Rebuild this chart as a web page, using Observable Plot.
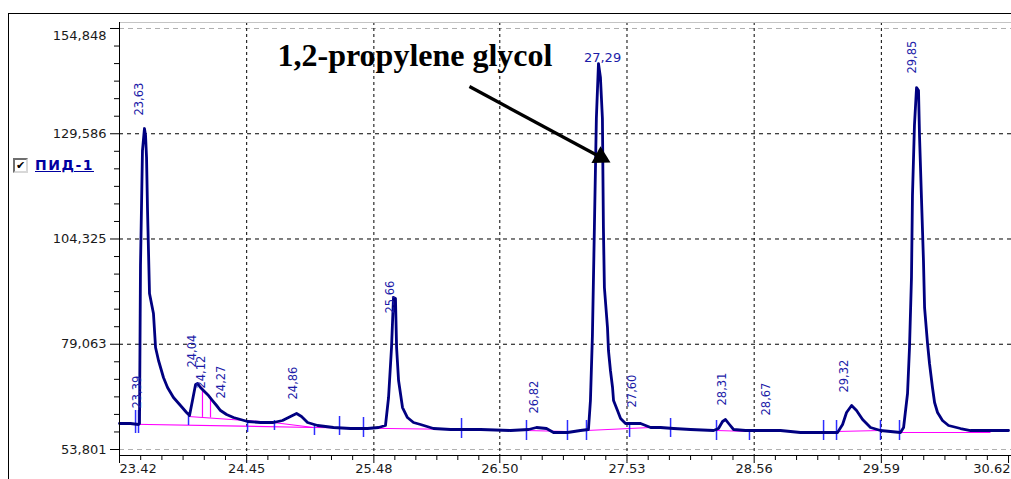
<!DOCTYPE html>
<html><head><meta charset="utf-8">
<script src="https://cdn.jsdelivr.net/npm/d3@7"></script>
<script src="https://cdn.jsdelivr.net/npm/@observablehq/plot@0.6"></script>
<style>
body{margin:0;background:#fff;}
#wrap{position:relative;width:1011px;height:479px;overflow:hidden;background:#fff;}
#chart{position:absolute;left:0;top:0;}
#frame{position:absolute;left:8px;top:13px;width:1100px;height:600px;border-left:1px solid #000;border-top:1px solid #000;pointer-events:none;}
#legend{position:absolute;left:13px;top:157px;display:flex;align-items:center;}
#legend .cb{display:inline-block;box-sizing:border-box;width:15px;height:15px;border:2px solid;border-color:#6e6e6e #d8d8d8 #d8d8d8 #6e6e6e;background:#fff;font:bold 11px/11px "DejaVu Sans",sans-serif;text-align:center;color:#000;}
#legend .lt{margin-left:7px;font:bold 14px "DejaVu Sans",sans-serif;letter-spacing:1.5px;color:#0000a0;text-decoration:underline;}
g[aria-label="peak-label-h"] text{letter-spacing:1px;}
g[aria-label="y-labels"] text{letter-spacing:1.2px;}
</style></head>
<body>
<div id="wrap"><div id="chart"></div><div id="frame"></div>
<div id="legend"><span class="cb">✔</span><span class="lt">ПИД-1</span></div></div>
<script>
// ---- axes ----
const xTickValues = [23.42, 24.45, 25.48, 26.50, 27.53, 28.56, 29.59, 30.62];
const xTickLabels = ["23.42","24.45","25.48","26.50","27.53","28.56","29.59","30.62"];
const yTickValues = [53801, 79063, 104325, 129586, 154848];
const yTickLabels = ["53,801","79,063","104,325","129,586","154,848"];
const xDomain = [23.42, 30.644];
const yDomain = [52361, 156288];

// ---- chromatogram (retention time, signal) ----
const curveTime = [
 23.420, 23.509, 23.574, 23.582, 23.590, 23.606, 23.622, 23.631, 23.639, 23.647,
 23.663, 23.695, 23.712, 23.736, 23.776, 23.809, 23.857, 23.914, 23.963, 23.987,
 24.011, 24.036, 24.052, 24.076, 24.108, 24.141, 24.173, 24.206, 24.238, 24.287,
 24.343, 24.457, 24.562, 24.667, 24.740, 24.805, 24.854, 24.894, 24.943, 25.024,
 25.153, 25.291, 25.429, 25.518, 25.574, 25.599, 25.623, 25.639, 25.655, 25.664,
 25.680, 25.712, 25.752, 25.801, 25.858, 25.963, 26.101, 26.344, 26.587, 26.733,
 26.797, 26.878, 26.935, 27.048, 27.153, 27.218, 27.234, 27.250, 27.266, 27.282,
 27.299, 27.315, 27.331, 27.339, 27.347, 27.372, 27.380, 27.396, 27.413, 27.421,
 27.453, 27.478, 27.518, 27.640, 27.721, 27.802, 27.907, 28.045, 28.231, 28.271,
 28.304, 28.328, 28.360, 28.393, 28.490, 28.611, 28.773, 28.935, 29.122, 29.235,
 29.276, 29.308, 29.349, 29.389, 29.438, 29.502, 29.583, 29.745, 29.770, 29.802,
 29.818, 29.834, 29.842, 29.858, 29.875, 29.891, 29.899, 29.915, 29.931, 29.940,
 29.964, 29.980, 30.004, 30.021, 30.045, 30.085, 30.134, 30.231, 30.312, 30.474,
 30.620];
const curveSignal = [
 60040, 60040, 59800, 60040, 97960, 125560, 130840, 129160, 123880, 111160,
 91240, 86440, 78280, 75160, 71080, 68680, 66280, 64360, 62680, 61960,
 65560, 69400, 69640, 68680, 67720, 66760, 65560, 64360, 63160, 62200,
 61480, 60520, 60280, 60280, 60760, 61720, 62440, 61720, 60280, 59560,
 59080, 58840, 58840, 59080, 59560, 66280, 78280, 90280, 90040, 78280,
 70360, 63880, 61480, 60280, 59800, 58840, 58600, 58600, 58360, 58600,
 59080, 58840, 57880, 57880, 58360, 58600, 65560, 81160, 107080, 133240,
 146440, 143080, 133240, 107080, 92680, 83080, 77560, 72760, 68680, 65560,
 63160, 61240, 60040, 60040, 59080, 59080, 58840, 58600, 58360, 58840,
 60520, 61000, 59800, 58600, 58360, 58360, 58360, 57880, 57880, 57880,
 59800, 62680, 64360, 63160, 61000, 59080, 58360, 57880, 59080, 67240,
 78280, 95080, 114760, 131560, 140680, 139960, 129160, 114040, 99160, 87880,
 79240, 74440, 68680, 65080, 62680, 60760, 59560, 58840, 58360, 58360,
 58360];

// ---- peak boundary markers ----
const boundaryTime = [23.550, 23.574, 23.979, 24.457, 24.675, 24.999, 25.202, 25.396, 26.190, 26.716,
                      27.048, 27.202, 27.551, 27.883, 28.255, 28.522, 29.122, 29.227, 29.583, 29.737];
const boundaryLow  = [57640, 57640, 59560, 57880, 58360, 57160, 57160, 56680, 56440, 55960,
                      55960, 55960, 56680, 56680, 55960, 55960, 55960, 55960, 55960, 55960];
const boundaryHigh = [63160, 63160, 61720, 60280, 60760, 59560, 61720, 61480, 61240, 60760,
                      60760, 60760, 60040, 61240, 60760, 57880, 60760, 60760, 60760, 60760];

// ---- integration baselines ----
const baseStartT = [23.420, 23.979, 24.667, 24.991, 26.716, 27.202, 28.255, 29.227, 29.737];
const baseStartV = [59920, 61720, 60280, 59080, 58360, 58360, 58360, 58120, 57880];
const baseEndT   = [24.991, 24.667, 24.991, 26.190, 27.048, 27.721, 28.522, 29.583, 30.474];
const baseEndV   = [59080, 60280, 59080, 58600, 58120, 59080, 58120, 58360, 57880];
const dropTime   = [24.092, 24.157];
const dropTop    = [67960, 66040];
const dropBottom = [61500, 61360];

// ---- peak labels ----
const peakLabelText   = ["23,39","23,63","24,04","24,12","24,27","24,86","25,66","26,82","27,60","28,31","28,67","29,32","29,85"];
const peakLabelTime   = [23.566, 23.582, 24.011, 24.084, 24.246, 24.829, 25.615, 26.781, 27.575, 28.304, 28.660, 29.292, 29.843];
const peakLabelSignal = [63640, 133960, 73480, 68440, 66040, 65800, 86440, 62440, 63880, 64360, 61960, 67480, 144040];
const topLabelText = ["27,29"];
const topLabelTime = [27.332];
const topLabelSignal = [147690];

// ---- annotation ----
const annotationText = ["1,2-propylene glycol"];
const annotationTime = [25.813];
const annotationSignal = [148360];
const arrowTail = {t: 26.254, v: 140920};
const arrowEnd  = {t: 27.291, v: 124360};
const arrowHead = {t: 27.318, v: 123930};

// ---- build ----
const curve = curveTime.map((t, i) => ({t, v: curveSignal[i]}));
const boundaries = boundaryTime.map((t, i) => ({t, lo: boundaryLow[i], hi: boundaryHigh[i]}));
const baselines = baseStartT.map((t, i) => ({t1: t, v1: baseStartV[i], t2: baseEndT[i], v2: baseEndV[i]}));
const drops = dropTime.map((t, i) => ({t, lo: dropBottom[i], hi: dropTop[i]}));
const peakLabels = peakLabelText.map((s, i) => ({s, t: peakLabelTime[i], v: peakLabelSignal[i]}));
const topLabels = topLabelText.map((s, i) => ({s, t: topLabelTime[i], v: topLabelSignal[i]}));
const annotations = annotationText.map((s, i) => ({s, t: annotationTime[i], v: annotationSignal[i]}));

function minorBetween(vals) {
  const out = [];
  for (let i = 0; i < vals.length - 1; i++) {
    const a = vals[i], b = vals[i + 1];
    for (let k = 1; k < 6; k++) out.push(a + (b - a) * k / 6);
  }
  return out;
}
const xMinor = minorBetween(xTickValues);
const yMinor = minorBetween(yTickValues);
const xInnerGrid = xTickValues.slice(1, -1);
const yInnerGrid = yTickValues.slice(1, -1);
const yEdgeGrid = [yTickValues[0], yTickValues[yTickValues.length - 1]];
const axisFont = "'DejaVu Sans', Verdana, sans-serif";
const xFmt = d => xTickLabels[xTickValues.indexOf(d)];
const yFmt = d => yTickLabels[yTickValues.indexOf(d)];

const chart = Plot.plot({
  width: 1011, height: 479,
  marginLeft: 119, marginRight: 0, marginTop: 22, marginBottom: 24,
  style: {background: "transparent", fontFamily: axisFont, overflow: "visible"},
  x: {domain: xDomain, axis: null},
  y: {domain: yDomain, axis: null},
  marks: [
    Plot.ruleY(yEdgeGrid, {stroke: "#b0b0b0", strokeDasharray: "5,4"}),
    Plot.ruleY(yInnerGrid, {stroke: "#000", strokeDasharray: "4,4"}),
    Plot.ruleX(xInnerGrid, {stroke: "#000", strokeDasharray: "3,3"}),
    Plot.ruleY([yDomain[1]], {stroke: "#c4c4c4"}),
    Plot.link(baselines, {x1: "t1", y1: "v1", x2: "t2", y2: "v2", stroke: "#ff00ff", strokeWidth: 1.2}),
    Plot.ruleX(drops, {x: "t", y1: "lo", y2: "hi", stroke: "#ff00ff", strokeWidth: 1.2}),
    Plot.ruleX(boundaries, {x: "t", y1: "lo", y2: "hi", stroke: "#2d2dff", strokeWidth: 1.5}),
    Plot.line(curve, {x: "t", y: "v", stroke: "#000080", strokeWidth: 2.8}),
    Plot.text(peakLabels, {x: "t", y: "v", text: "s", rotate: -90, textAnchor: "start", fill: "#1c1ca8", fontSize: 11.5}),
    Plot.text(topLabels, {x: "t", y: "v", text: "s", fill: "#1c1ca8", fontSize: 13, ariaLabel: "peak-label-h"}),
    Plot.text(annotations, {x: "t", y: "v", text: "s", fill: "#000", fontSize: 32, fontWeight: "bold", fontFamily: "'Liberation Serif', 'Times New Roman', serif"}),
    Plot.link([{a: arrowTail, b: arrowEnd}], {x1: d => d.a.t, y1: d => d.a.v, x2: d => d.b.t, y2: d => d.b.v, stroke: "#000", strokeWidth: 3.2}),
    Plot.dot([arrowHead], {x: "t", y: "v", symbol: "triangle2", r: 9.1, rotate: 118.3, fill: "#000", stroke: "none"}),
    Plot.ruleX([xDomain[0]], {stroke: "#000"}),
    Plot.ruleY([yDomain[0]], {stroke: "#000"}),
    Plot.axisX(xTickValues, {anchor: "bottom", tickSize: 8, fill: "none", label: null}),
    Plot.axisX(xTickValues.slice(0, 1), {anchor: "bottom", tickSize: 0, tickPadding: 8, fontSize: 13, fill: "#1a1a1a",
      textAnchor: "start", tickFormat: xFmt, label: null}),
    Plot.axisX(xTickValues.slice(1, -1), {anchor: "bottom", tickSize: 0, tickPadding: 8, fontSize: 13, fill: "#1a1a1a",
      tickFormat: xFmt, label: null}),
    Plot.axisX(xTickValues.slice(-1), {anchor: "bottom", tickSize: 0, tickPadding: 8, fontSize: 13, fill: "#1a1a1a",
      textAnchor: "end", dx: 2, tickFormat: xFmt, label: null}),
    Plot.axisX(xMinor, {anchor: "bottom", tickSize: 5, fill: "none", label: null}),
    Plot.axisY(yTickValues, {anchor: "left", tickSize: 9, fill: "none", label: null}),
    Plot.axisY(yMinor, {anchor: "left", tickSize: 5, fill: "none", label: null}),
    Plot.axisY(yTickValues.slice(0, -1), {anchor: "left", tickSize: 0, tickPadding: 13, fontSize: 13, fill: "#1a1a1a",
      tickFormat: yFmt, label: null, ariaLabel: "y-labels"}),
    Plot.axisY(yTickValues.slice(-1), {anchor: "left", tickSize: 0, tickPadding: 13, dy: 7, fontSize: 13, fill: "#1a1a1a",
      tickFormat: yFmt, label: null, ariaLabel: "y-labels"})
  ]
});
document.getElementById("chart").appendChild(chart);
</script>
</body></html>
